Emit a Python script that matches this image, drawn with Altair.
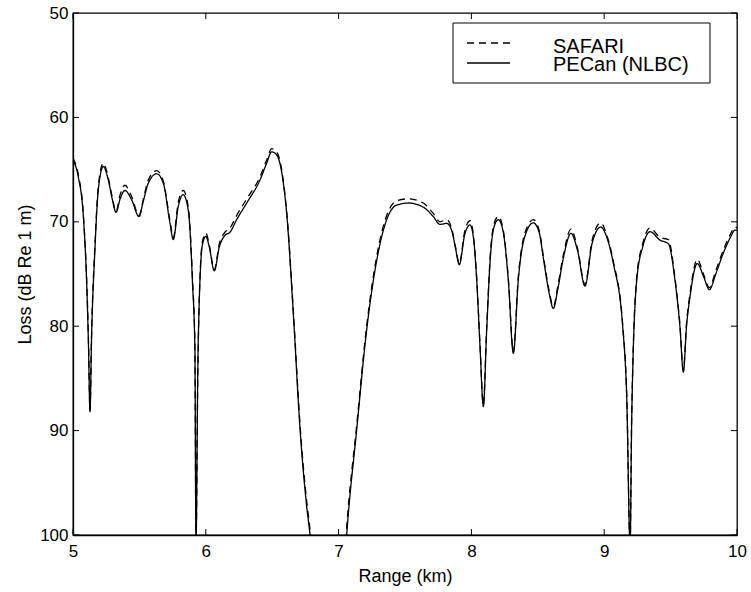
import altair as alt
import pandas as pd

# Range (km)
range_km = [
    5.000, 5.040, 5.078, 5.103, 5.116, 5.128, 5.140, 5.165, 5.190, 5.228,
    5.266, 5.295, 5.324, 5.355, 5.391, 5.442, 5.497, 5.530, 5.567, 5.630,
    5.680, 5.730, 5.755, 5.793, 5.830, 5.868, 5.900, 5.918, 5.926, 5.940,
    5.951, 5.976, 6.001, 6.026, 6.064, 6.102, 6.144, 6.182, 6.232, 6.308,
    6.408, 6.458, 6.496, 6.534, 6.584, 6.609, 6.659, 6.710, 6.760, 6.785,
    6.820, 6.900, 7.000, 7.040, 7.061, 7.136, 7.211, 7.287, 7.362, 7.437,
    7.525, 7.638, 7.713, 7.763, 7.814, 7.851, 7.880, 7.909, 7.950, 7.990,
    8.015, 8.040, 8.065, 8.090, 8.115, 8.145, 8.175, 8.203, 8.240, 8.278,
    8.316, 8.353, 8.400, 8.466, 8.510, 8.542, 8.585, 8.617, 8.650, 8.692,
    8.750, 8.800, 8.855, 8.910, 8.974, 9.020, 9.069, 9.139, 9.170, 9.195,
    9.207, 9.245, 9.290, 9.345, 9.420, 9.483, 9.533, 9.570, 9.596, 9.620,
    9.646, 9.701, 9.750, 9.792, 9.840, 9.897, 9.950, 9.985, 10.000,
]

# PECan (NLBC) loss (dB re 1 m)
pecan = [
    64.1, 65.7, 69.5, 75.9, 81.5, 88.2, 81.0, 72.7, 67.0, 64.7,
    66.0, 67.8, 69.1, 67.8, 67.0, 67.9, 69.5, 68.0, 66.3, 65.4,
    66.3, 70.1, 71.7, 68.5, 67.4, 68.9, 75.9, 82.3, 101.0, 84.0,
    77.5, 72.1, 71.4, 72.4, 74.7, 72.4, 71.3, 71.0, 69.8, 68.2,
    66.0, 64.4, 63.3, 63.6, 66.3, 69.2, 78.8, 89.9, 97.3, 100.0,
    105.0, 115.0, 112.0, 104.0, 100.0, 89.95, 80.4, 73.7, 69.8, 68.4,
    68.2, 68.6, 69.5, 70.25, 70.15, 70.8, 72.5, 74.1, 71.2, 70.3,
    71.5, 75.6, 82.0, 87.7, 80.4, 73.0, 70.3, 69.8, 71.0, 75.6,
    82.6, 75.6, 71.5, 70.1, 71.0, 73.5, 76.8, 78.3, 76.5, 73.5,
    71.1, 72.8, 76.15, 72.0, 70.5, 71.5, 74.0, 80.0, 87.0, 101.0,
    89.0, 75.6, 72.4, 70.95, 71.75, 72.1, 75.6, 80.0, 84.4, 80.0,
    77.2, 74.0, 75.3, 76.5, 75.0, 73.0, 71.5, 70.8, 70.8,
]

# SAFARI loss (dB re 1 m)
safari = [
    63.9, 65.5, 69.3, 75.6, 81.0, 88.0, 80.6, 72.3, 66.7, 64.4,
    65.8, 67.6, 69.0, 67.4, 66.5, 67.6, 69.4, 67.8, 66.0, 65.1,
    66.1, 69.9, 71.5, 68.1, 67.0, 68.6, 75.5, 81.8, 101.0, 84.5,
    77.3, 71.8, 71.1, 72.2, 74.6, 72.1, 71.0, 70.6, 69.4, 67.8,
    65.7, 64.1, 63.0, 63.3, 66.1, 69.0, 78.5, 89.5, 96.8, 99.5,
    104.5, 115.0, 111.0, 103.0, 99.2, 89.5, 80.0, 73.3, 69.4, 68.0,
    67.8, 68.2, 69.2, 70.0, 69.8, 70.6, 72.4, 74.0, 70.9, 69.9,
    71.3, 75.4, 81.8, 87.5, 80.1, 72.7, 70.0, 69.5, 70.8, 75.4,
    82.4, 75.3, 71.2, 69.8, 70.8, 73.3, 76.6, 78.1, 76.2, 73.2,
    70.7, 72.6, 76.0, 71.7, 70.1, 71.3, 73.8, 79.8, 86.8, 101.0,
    88.6, 75.3, 72.1, 70.6, 71.5, 71.7, 75.4, 79.8, 84.2, 79.7,
    76.9, 73.6, 75.1, 76.3, 74.7, 72.7, 71.2, 70.5, 70.6,
]

series_names = ["SAFARI", "PECan (NLBC)"]
x_ticks = [5, 6, 7, 8, 9, 10]
y_ticks = [50, 60, 70, 80, 90, 100]

assert len(range_km) == len(pecan) == len(safari)

rows = []
for r, s, p in zip(range_km, safari, pecan):
    rows.append({"range": r, "loss": s, "series": series_names[0]})
    rows.append({"range": r, "loss": p, "series": series_names[1]})
df = pd.DataFrame(rows)

W, H = 664, 522
FONT = "Liberation Sans"
DASH = [7, 5]

x_scale = alt.Scale(domain=[5, 10], nice=False, zero=False)
y_scale = alt.Scale(domain=[50, 100], reverse=True, nice=False, zero=False)

lines = alt.Chart(df).mark_line(
    interpolate="monotone", clip=True, color="black", strokeWidth=1.3
).encode(
    x=alt.X("range:Q", scale=x_scale,
            axis=alt.Axis(values=x_ticks, format="d", title="Range (km)",
                          grid=False, ticks=False, tickSize=0, labelPadding=8,
                          labelFontSize=17, titleFontSize=18,
                          titleFontWeight="normal", titleX=W / 2, titleY=41,
                          titleBaseline="middle", titleAlign="center",
                          domainColor="black", labelColor="black",
                          titleColor="black", labelFlush=False)),
    y=alt.Y("loss:Q", scale=y_scale,
            axis=alt.Axis(values=y_ticks, format="d", title="Loss (dB Re 1 m)",
                          grid=False, ticks=False, tickSize=0, labelPadding=5,
                          labelFontSize=17, titleFontSize=18,
                          titleFontWeight="normal", titleX=-48, titleY=H / 2,
                          titleAngle=270, titleBaseline="middle",
                          titleAlign="center", domainColor="black",
                          labelColor="black", titleColor="black",
                          labelFlush=False)),
    strokeDash=alt.StrokeDash(
        "series:N",
        scale=alt.Scale(domain=series_names, range=[DASH, [1, 0]]),
        legend=None,
    ),
)

xt = pd.DataFrame({"t": x_ticks})
yt = pd.DataFrame({"t": y_ticks})
TL = 6

x_bottom = alt.Chart(xt).mark_rule(color="black", strokeWidth=1).encode(
    x=alt.X("t:Q", scale=x_scale), y=alt.value(H), y2=alt.value(H - TL))
x_top = alt.Chart(xt).mark_rule(color="black", strokeWidth=1).encode(
    x=alt.X("t:Q", scale=x_scale), y=alt.value(0), y2=alt.value(TL))
y_left = alt.Chart(yt).mark_rule(color="black", strokeWidth=1).encode(
    y=alt.Y("t:Q", scale=y_scale), x=alt.value(0), x2=alt.value(TL))
y_right = alt.Chart(yt).mark_rule(color="black", strokeWidth=1).encode(
    y=alt.Y("t:Q", scale=y_scale), x=alt.value(W), x2=alt.value(W - TL))

# Manual legend (box, line samples, labels)
one = pd.DataFrame({"a": [0]})
leg_box = alt.Chart(one).mark_rect(
    fill="white", stroke="black", strokeWidth=1
).encode(x=alt.value(380), x2=alt.value(637), y=alt.value(10), y2=alt.value(70))

leg_df0 = pd.DataFrame({"series": [series_names[0]]})
leg_df1 = pd.DataFrame({"series": [series_names[1]]})

leg_line0 = alt.Chart(leg_df0).mark_rule(
    color="black", strokeWidth=1.3, strokeDash=DASH
).encode(x=alt.value(394), x2=alt.value(437), y=alt.value(30))
leg_line1 = alt.Chart(leg_df1).mark_rule(
    color="black", strokeWidth=1.3
).encode(x=alt.value(394), x2=alt.value(437), y=alt.value(50))

leg_txt0 = alt.Chart(leg_df0).mark_text(
    align="left", baseline="alphabetic", fontSize=20, font=FONT, color="black"
).encode(text="series:N", x=alt.value(480), y=alt.value(40))
leg_txt1 = alt.Chart(leg_df1).mark_text(
    align="left", baseline="alphabetic", fontSize=20, font=FONT, color="black"
).encode(text="series:N", x=alt.value(480), y=alt.value(58))

chart = alt.layer(
    lines, x_bottom, x_top, y_left, y_right,
    leg_box, leg_line0, leg_line1, leg_txt0, leg_txt1,
).properties(
    width=W, height=H,
    autosize=alt.AutoSizeParams(type="none"),
    padding={"left": 73, "top": 13, "right": 14, "bottom": 57},
    background="white",
).configure_view(
    stroke="black", strokeWidth=1.3
).configure_axis(
    labelFont=FONT, titleFont=FONT, domainWidth=1.3
)

chart.save("out.html", embed_options={"renderer": "svg", "actions": False})
